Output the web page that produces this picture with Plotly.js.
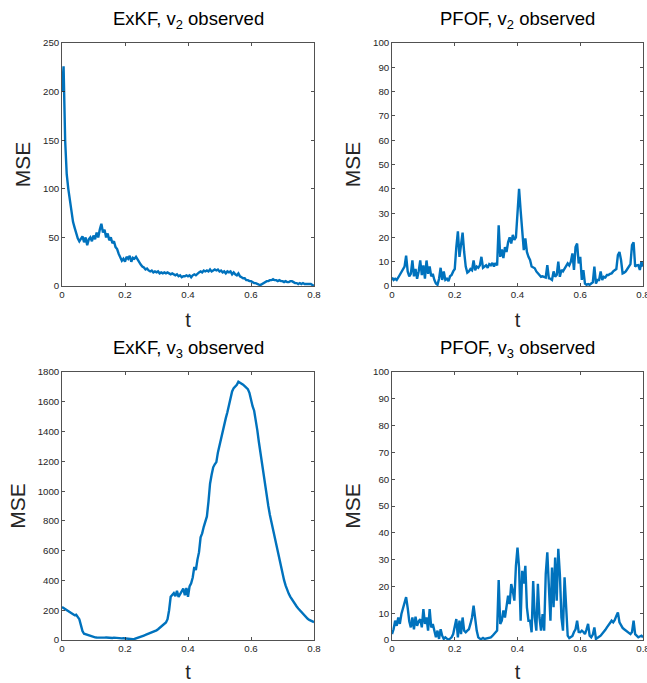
<!DOCTYPE html>
<html>
<head>
<meta charset="utf-8">
<script src="https://cdn.plot.ly/plotly-3.0.1.min.js"></script>
<style>html,body{margin:0;padding:0;background:#fff;}#chart{width:647px;height:683px;}</style>
</head>
<body>
<div id="chart"></div>
<script>
// time grid step (t from 0 to 0.8)
var dt = 0.005;

// ExKF, v2 observed
var exkfV2 = [
  200, 226, 150, 115, 100, 88, 76, 66, 60, 53,
  49, 46, 48, 51, 45, 50, 42, 48, 50, 46,
  52, 48, 55, 50, 58, 64, 55, 58, 50, 54,
  47, 50, 44, 46, 40, 38, 33, 30, 26, 28,
  25, 30, 28, 31, 25, 29, 28, 30, 27, 24,
  22, 20, 19, 17, 18, 16, 15, 16, 14, 15,
  14, 15, 13, 14, 13, 14, 13, 14, 13, 12,
  13, 12, 11, 12, 10, 11, 9, 10, 10, 11,
  10, 11, 9, 11, 12, 11, 13, 14, 15, 14,
  16, 15, 16, 15, 17, 15, 16, 17, 16, 17,
  15, 16, 14, 15, 13, 15, 14, 15, 12, 14,
  12, 11, 13, 10, 9, 8, 8, 6, 6, 5,
  5, 4, 3, 3, 2, 1.5, 1, 2, 3, 4,
  5, 5, 6, 6, 7, 6, 6, 5, 6, 5,
  5, 4, 5, 4, 4, 5, 5, 4, 3, 3,
  2, 3, 2, 3, 2, 2, 2, 1.5, 2, 1,
  0.5
];

// PFOF, v2 observed
var pfofV2 = [
  3.5, 2.5, 3, 2.5, 3.5, 4.5, 5.5, 6.5, 8, 12.5,
  6, 4, 5, 10.5, 4, 7, 3, 6, 10.5, 4.5,
  8.5, 3, 10.5, 5, 8, 4, 5, 2.5, 1, 0.5,
  3, 7.5, 2.5, 6, 2.5, 3, 2, 4, 4.5, 6,
  7, 16, 22.5, 12, 17.5, 22, 14, 8, 5.5, 6,
  7, 6.5, 10.5, 6.5, 8, 7.5, 8.5, 12, 7.5, 8,
  8.5, 7.5, 9, 8.5, 9.5, 8, 9.5, 8.5, 25, 12,
  15, 11.5, 16, 14, 18, 20, 17.5, 21, 19, 20,
  30, 40, 31, 21.6, 14.8, 19.6, 14, 12, 10.7, 8,
  7.5, 7.3, 6, 5.2, 4.5, 3.8, 4, 3.6, 3.5, 8.6,
  3.2, 3, 2.5, 6, 3.8, 4.5, 10, 3.8, 6.6, 6,
  7.3, 8, 9.3, 8.5, 10, 13.4, 6.6, 16, 17.5, 9.3,
  12, 2.5, 6.5, 1, 0.5, 0.8, 0.5, 1, 1.5, 8,
  1, 2.5, 2.5, 6, 2.5, 3.8, 3.5, 4.5, 4.5, 5,
  5.2, 6, 6.6, 7, 12.7, 14, 10.7, 5.2, 5.5, 6,
  7, 8, 9, 16.8, 18, 8, 8.5, 8.6, 6.6, 10,
  8
];

// ExKF, v3 observed
var exkfV3 = [
  222, 215, 205, 200, 195, 188, 182, 175, 166, 170,
  158, 140, 100, 60, 42, 38, 33, 30, 26, 22,
  20, 18, 17, 16, 16, 17, 15, 16, 17, 15,
  16, 15, 14, 16, 14, 13, 14, 13, 11, 12,
  10, 9, 10, 7, 6, 5, 7, 10, 14, 18,
  22, 26, 30, 34, 38, 42, 46, 50, 55, 62,
  65, 72, 80, 90, 98, 108, 118, 140, 200, 290,
  300, 315, 295, 330, 290, 310, 320, 345, 300, 350,
  290, 360, 380, 420, 490, 470, 540, 590, 690, 716,
  760, 790, 830, 930, 1050, 1110, 1160, 1180, 1195, 1260,
  1310, 1350, 1400, 1440, 1490, 1530, 1580, 1636, 1670, 1692,
  1700, 1714, 1735, 1730, 1725, 1715, 1705, 1695, 1685, 1660,
  1610, 1570, 1540, 1480, 1410, 1330, 1254, 1180, 1100, 1030,
  965, 900, 840, 790, 740, 690, 640, 590, 540, 490,
  445, 402, 365, 334, 310, 290, 272, 256, 240, 225,
  212, 200, 190, 175, 162, 150, 142, 135, 128, 124,
  120
];

// PFOF, v3 observed
var pfofV3 = [
  2.2, 4, 7.2, 5.3, 8.4, 6, 9.7, 12, 14, 16,
  12, 7, 4.7, 8.4, 4, 8.7, 5.3, 7, 7.8, 4.7,
  11.5, 6, 8.4, 3.5, 11.5, 4.7, 6, 2.9, 1, 3.5,
  0.4, 4, 1.6, 0.4, 1, 0.5, 0.1, 0.5, 1, 2.2,
  5, 7.8, 1, 7.2, 2.2, 8.4, 3.5, 2.9, 3.5, 4,
  6, 8.4, 12.8, 7.2, 3.5, 1, 0.5, 0.4, 0.8, 0.4,
  0.5, 0.6, 0.8, 1, 1.5, 2.2, 3, 3.5, 22.4, 6,
  7.2, 11, 8.4, 13.4, 16.5, 13.4, 20.9, 18.4, 14.7, 27.7,
  34.5, 27, 7.2, 25.8, 21, 27.7, 12.2, 7.2, 7.2, 2.9,
  22, 8.4, 3.5, 21, 8.4, 3.5, 9.7, 3.5, 24.6, 32.7,
  18.4, 7.2, 27, 12.2, 30.8, 14.7, 34, 24.6, 8.4, 3.5,
  23.4, 12.2, 1.6, 0.7, 1, 1.5, 3, 4, 7.2, 3,
  2.9, 3.5, 3, 2.2, 4, 6, 1.6, 1, 2, 4.7,
  0.4, 1, 1.2, 1.6, 2.2, 2.9, 3.8, 4.7, 5.5, 6.5,
  7.2, 6.6, 7.5, 9, 10.3, 6.6, 5.5, 4.5, 4, 3.5,
  2.9, 2.5, 2.2, 3, 7.2, 2.2, 1.5, 1, 1.3, 1.6,
  1
];

var titles = ["ExKF, v<sub>2</sub> observed", "PFOF, v<sub>2</sub> observed",
              "ExKF, v<sub>3</sub> observed", "PFOF, v<sub>3</sub> observed"];
var xTitle = "t";
var yTitle = "MSE";
var yRanges = [[0, 250], [0, 100], [0, 1800], [0, 100]];
var yDticks = [50, 10, 200, 10];
var xTickVals = [0, 0.2, 0.4, 0.6, 0.8];

function tGrid(n) { var t = []; for (var i = 0; i < n; i++) t.push(+(i * dt).toFixed(4)); return t; }

var series = [exkfV2, pfofV2, exkfV3, pfofV3];
var lineColor = "#0072BD";
var traces = series.map(function (s, k) {
  return {
    x: tGrid(s.length), y: s, type: "scatter", mode: "lines",
    line: { color: lineColor, width: 2.4 },
    xaxis: k === 0 ? "x" : "x" + (k + 1),
    yaxis: k === 0 ? "y" : "y" + (k + 1),
    hoverinfo: "skip", showlegend: false
  };
});

var W = 647, H = 683;
var boxes = [
  { x0: 62, x1: 314, y0: 43, y1: 286 },
  { x0: 392, x1: 643, y0: 43, y1: 286 },
  { x0: 62, x1: 314, y0: 372, y1: 640 },
  { x0: 392, x1: 643, y0: 372, y1: 640 }
];
var FONT = "Liberation Sans, Arial, Helvetica, sans-serif";
var axColor = "#262626";

var layout = {
  width: W, height: H,
  margin: { l: 0, r: 0, t: 0, b: 0 },
  paper_bgcolor: "#fff", plot_bgcolor: "#fff",
  showlegend: false,
  font: { family: FONT, color: axColor },
  annotations: []
};

boxes.forEach(function (b, k) {
  var sx = k === 0 ? "" : String(k + 1);
  layout["xaxis" + sx] = {
    domain: [b.x0 / W, b.x1 / W], anchor: "y" + sx, range: [0, 0.8],
    tickvals: xTickVals, ticktext: xTickVals.map(function (v) { return String(v); }),
    ticklabeloverflow: "allow",
    ticks: "inside", ticklen: 3, tickwidth: 0.8, tickcolor: axColor,
    showline: true, linecolor: axColor, linewidth: 0.8, mirror: "ticks",
    showgrid: false, zeroline: false,
    tickfont: { size: 9.7, color: axColor, family: FONT },
    title: { text: xTitle, font: { size: 20, color: axColor, family: FONT }, standoff: 13 }
  };
  layout["yaxis" + sx] = {
    domain: [1 - b.y1 / H, 1 - b.y0 / H], anchor: "x" + sx,
    range: yRanges[k], dtick: yDticks[k], tick0: 0,
    ticks: "inside", ticklen: 3, tickwidth: 0.8, tickcolor: axColor,
    showline: true, linecolor: axColor, linewidth: 0.8, mirror: "ticks",
    showgrid: false, zeroline: false,
    tickfont: { size: 9.7, color: axColor, family: FONT },
    title: { text: yTitle, font: { size: 21, color: axColor, family: FONT }, standoff: 6 }
  };
  layout.annotations.push({
    text: titles[k], xref: "paper", yref: "paper",
    x: ((b.x0 + b.x1) / 2) / W, y: 1 - (b.y0 - 9) / H,
    xanchor: "center", yanchor: "bottom", showarrow: false,
    font: { size: 18.5, color: "#000", family: FONT }
  });
});

Plotly.newPlot("chart", traces, layout, { staticPlot: true, displayModeBar: false });
</script>
</body>
</html>
